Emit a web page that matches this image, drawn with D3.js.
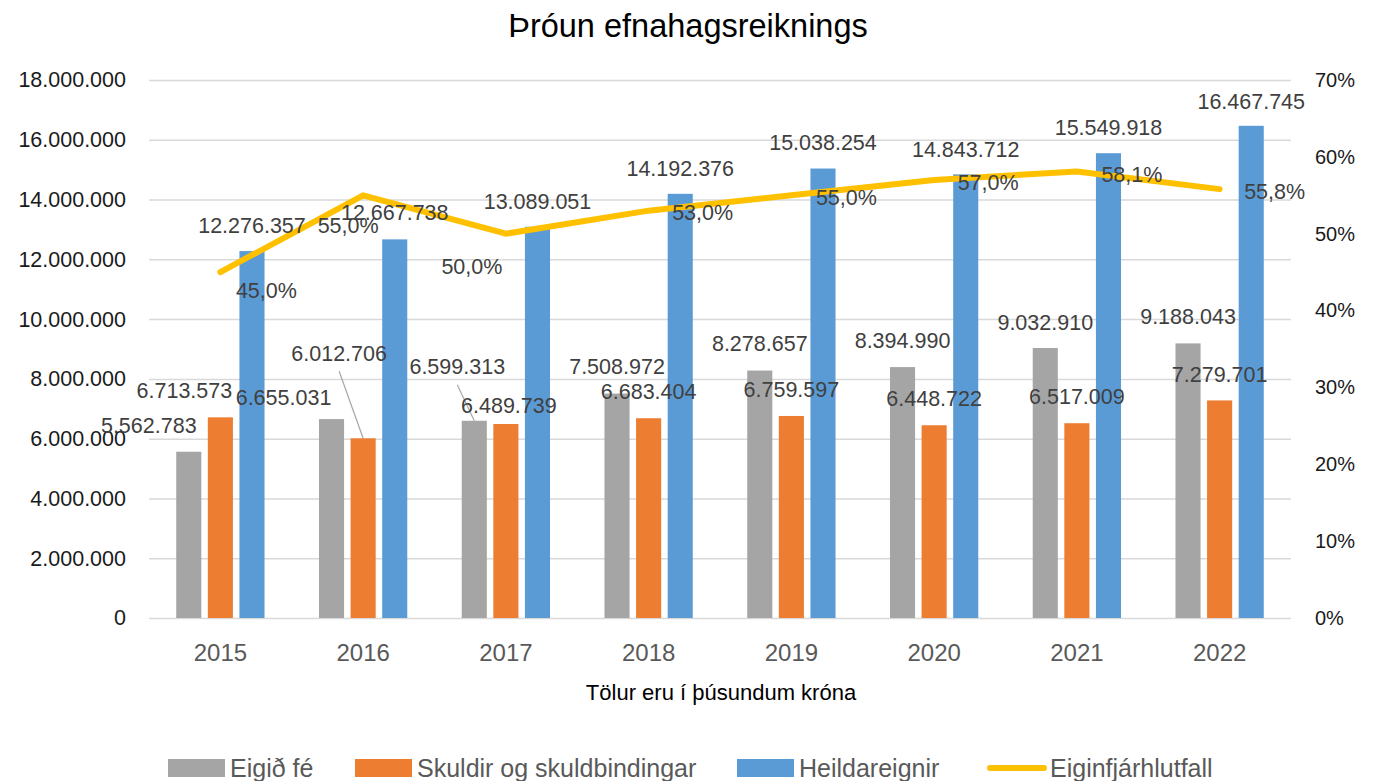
<!DOCTYPE html>
<html>
<head>
<meta charset="utf-8">
<script src="https://cdn.jsdelivr.net/npm/d3@7"></script>
<style>
  body { margin: 0; background: #fff; }
  #viz text { font-family: "Liberation Sans", Arial, sans-serif; }
</style>
</head>
<body>
<div id="viz"></div>
<script>
// values (þúsundir króna)
const years = ['2015', '2016', '2017', '2018', '2019', '2020', '2021', '2022'];
const eigidFe = [5562783, 6655031, 6599313, 7508972, 8278657, 8394990, 9032910, 9188043];
const skuldir = [6713573, 6012706, 6489739, 6683404, 6759597, 6448722, 6517009, 7279701];
const heildareignir = [12276357, 12667738, 13089051, 14192376, 15038254, 14843712, 15549918, 16467745];
const hlutfall = [45.0, 55.0, 50.0, 53.0, 55.0, 57.0, 58.1, 55.8];
const leftTicks = [0, 2000000, 4000000, 6000000, 8000000, 10000000, 12000000, 14000000, 16000000, 18000000];
const rightTicks = [0, 10, 20, 30, 40, 50, 60, 70];

const seriesNames = ['Eigið fé', 'Skuldir og skuldbindingar', 'Heildareignir'];
const lineName = 'Eiginfjárhlutfall';
const colors = ['#A5A5A5', '#ED7D31', '#5B9BD5'];
const lineColor = '#FFC000';

// label nudges (dx, dy from bar top / line point), as Excel had them moved
const barLabelShift = [
  [[-40, -26], [-48, -22], [-17, -54], [0, -27], [0, -27], [0, -27], [0, -26], [0, -27]],
  [[-36, -27], [-24, -85], [3, -19], [0, -27], [0, -27], [0, -27], [0, -27], [0, -26]],
  [[0, -26], [0, -27], [0, -26], [0, -26], [0, -26], [0, -25], [0, -26], [0, -25]]
];
const lineLabelShift = [[46, 18], [-15, 30], [-34, 33], [54, 2], [55, 2], [54, 2], [55, 3], [55, 2]];
const leaders = [[1, 1], [0, 2]]; // [series, year] with a leader line

const isl = d3.formatLocale({ decimal: ',', thousands: '.', grouping: [3], currency: ['', ' kr.'] });
const fmtNum = isl.format(',d');
const fmtPct = d => isl.format(',.1f')(d) + '%';

const W = 1373;
const H = 781;
const plotLeft = 149;
const plotRight = 1291;
const plotTop = 80;
const plotBottom = 618;

const svg = d3.select('#viz')
  .append('svg')
  .attr('width', W)
  .attr('height', H);

const x = d3.scaleBand().domain(years).range([plotLeft, plotRight]);
const xSub = d3.scaleBand()
  .domain(seriesNames)
  .range([x.bandwidth() / 2 - 44.15, x.bandwidth() / 2 + 44.15])
  .paddingInner(0.206);
const y = d3.scaleLinear().domain([0, 18000000]).range([plotBottom, plotTop]);
const y2 = d3.scaleLinear().domain([0, 70]).range([plotBottom, plotTop]);

// title
svg.append('text')
  .attr('x', 688)
  .attr('y', 37)
  .attr('text-anchor', 'middle')
  .attr('font-size', 32.5)
  .attr('fill', '#000')
  .text('Þróun efnahagsreiknings');

// gridlines
svg.append('g')
  .attr('transform', `translate(${plotLeft},0)`)
  .call(d3.axisLeft(y).tickValues(leftTicks).tickSize(-(plotRight - plotLeft)).tickFormat(''))
  .call(g => g.select('.domain').remove())
  .call(g => g.selectAll('line').attr('stroke', '#D9D9D9').attr('stroke-width', 1.5));

// left axis
svg.append('g')
  .attr('transform', `translate(${plotLeft},0)`)
  .call(d3.axisLeft(y).tickValues(leftTicks).tickSize(0).tickPadding(23).tickFormat(fmtNum))
  .call(g => g.select('.domain').remove())
  .call(g => g.selectAll('text').attr('font-size', 21.5).attr('fill', '#1a1a1a'));

// right axis
svg.append('g')
  .attr('transform', `translate(${plotRight},0)`)
  .call(d3.axisRight(y2).tickValues(rightTicks).tickSize(0).tickPadding(24).tickFormat(d => d + '%'))
  .call(g => g.select('.domain').remove())
  .call(g => g.selectAll('text').attr('font-size', 20).attr('fill', '#1a1a1a'));

// bottom axis
svg.append('g')
  .attr('transform', `translate(0,${plotBottom})`)
  .call(d3.axisBottom(x).tickSize(0).tickPadding(26))
  .call(g => g.select('.domain').remove())
  .call(g => g.selectAll('text').attr('font-size', 24).attr('fill', '#595959'));

svg.append('text')
  .attr('x', 721)
  .attr('y', 700)
  .attr('text-anchor', 'middle')
  .attr('font-size', 22)
  .attr('fill', '#000')
  .text('Tölur eru í þúsundum króna');

const barSeries = [eigidFe, skuldir, heildareignir];

// bars
barSeries.forEach((vals, s) => {
  svg.append('g')
    .selectAll('rect')
    .data(vals)
    .enter()
    .append('rect')
    .attr('x', (d, i) => x(years[i]) + xSub(seriesNames[s]))
    .attr('width', xSub.bandwidth())
    .attr('y', d => y(d))
    .attr('height', d => plotBottom - y(d))
    .attr('fill', colors[s]);
});

// line
const linePath = d3.line()
  .x((d, i) => x(years[i]) + x.bandwidth() / 2)
  .y(d => y2(d));

svg.append('path')
  .datum(hlutfall)
  .attr('d', linePath)
  .attr('fill', 'none')
  .attr('stroke', lineColor)
  .attr('stroke-width', 6)
  .attr('stroke-linejoin', 'round')
  .attr('stroke-linecap', 'round');

// leader lines
leaders.forEach(([s, i]) => {
  const bx = x(years[i]) + xSub(seriesNames[s]) + xSub.bandwidth() / 2;
  const by = y(barSeries[s][i]);
  const [dx, dy] = barLabelShift[s][i];
  svg.append('line')
    .attr('x1', bx + dx)
    .attr('y1', by + dy + 18)
    .attr('x2', bx)
    .attr('y2', by)
    .attr('stroke', '#A6A6A6')
    .attr('stroke-width', 1.2);
});

// bar labels
barSeries.forEach((vals, s) => {
  svg.append('g')
    .selectAll('text')
    .data(vals)
    .enter()
    .append('text')
    .attr('x', (d, i) => x(years[i]) + xSub(seriesNames[s]) + xSub.bandwidth() / 2 + barLabelShift[s][i][0])
    .attr('y', (d, i) => y(d) + barLabelShift[s][i][1])
    .attr('dy', '0.36em')
    .attr('text-anchor', 'middle')
    .attr('font-size', 21.5)
    .attr('fill', '#404040')
    .text(d => fmtNum(d));
});

// line labels
svg.append('g')
  .selectAll('text')
  .data(hlutfall)
  .enter()
  .append('text')
  .attr('x', (d, i) => x(years[i]) + x.bandwidth() / 2 + lineLabelShift[i][0])
  .attr('y', (d, i) => y2(d) + lineLabelShift[i][1])
  .attr('dy', '0.36em')
  .attr('text-anchor', 'middle')
  .attr('font-size', 21.5)
  .attr('fill', '#404040')
  .text(d => fmtPct(d));

// legend
const legendX = [168, 355, 737];
const legend = svg.append('g');
seriesNames.forEach((name, s) => {
  legend.append('rect')
    .attr('x', legendX[s])
    .attr('y', 759)
    .attr('width', 57)
    .attr('height', 18)
    .attr('fill', colors[s]);
  legend.append('text')
    .attr('x', legendX[s] + 62)
    .attr('y', 768)
    .attr('dy', '0.36em')
    .attr('font-size', 25)
    .attr('fill', '#595959')
    .text(name);
});
legend.append('line')
  .attr('x1', 990)
  .attr('x2', 1044)
  .attr('y1', 768)
  .attr('y2', 768)
  .attr('stroke', lineColor)
  .attr('stroke-width', 6)
  .attr('stroke-linecap', 'round');
legend.append('text')
  .attr('x', 1050)
  .attr('y', 768)
  .attr('dy', '0.36em')
  .attr('font-size', 25)
  .attr('fill', '#595959')
  .text(lineName);
</script>
</body>
</html>
